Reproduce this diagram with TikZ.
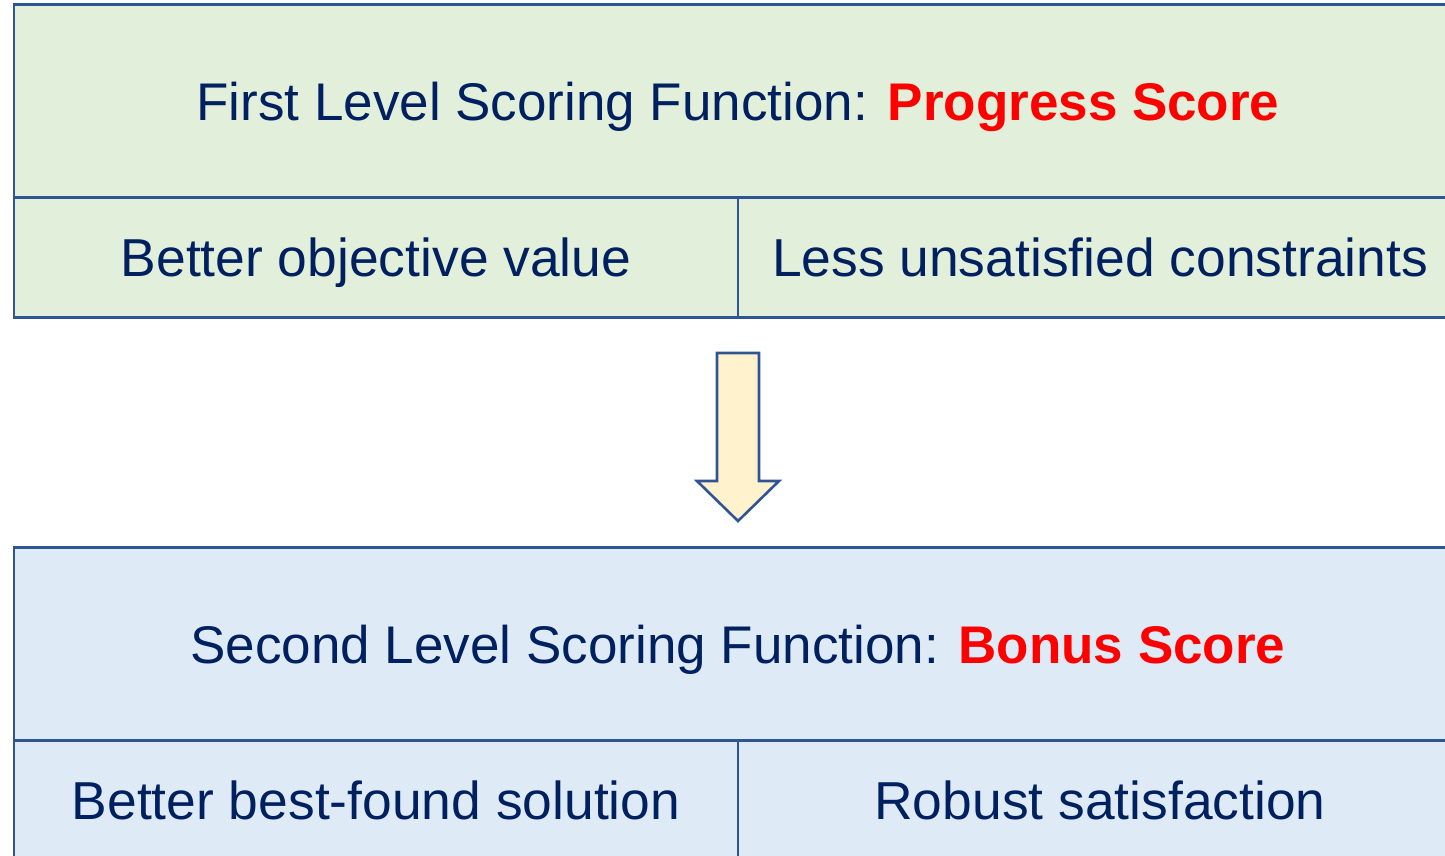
\documentclass[tikz,border=0pt]{standalone}
\usepackage{fontspec}
\setmainfont{Liberation Sans}
\usetikzlibrary{positioning}

\definecolor{navy}{HTML}{002060}
\definecolor{frame}{HTML}{2F5597}
\definecolor{greenbg}{HTML}{E2EFDA}
\definecolor{bluebg}{HTML}{DEEBF7}
\definecolor{arrowbg}{HTML}{FFF2CC}

\begin{document}
\begin{tikzpicture}[x=0.5pt,y=-0.5pt,
		font=\fontsize{26.7}{32}\selectfont,
		box/.style={draw=frame,line width=1.3pt,text=navy,inner sep=0pt,outer sep=0pt,
			text height=19.1pt,text depth=0pt},
		head/.style={box,minimum width=724pt,minimum height=96.5pt,font=\fontsize{26.5}{32}\selectfont},
		cell/.style={box,minimum width=362pt,minimum height=60pt},
		blockarrow/.style={draw=frame,line width=1.3pt,fill=arrowbg,line join=miter},
	]
		\useasboundingbox (0,0) rectangle (1445,856);
		\clip (0,0) rectangle (1445,856);

		% first level
		\node[head,fill=greenbg,anchor=north west] (first) at (14,4.5)
			{First Level Scoring Function: \textcolor{red}{\bfseries Progress Score}};
		\node[cell,fill=greenbg,below right=0pt of first.south west] (obj) {Better objective value};
		\node[cell,fill=greenbg,right=0pt of obj] (cons) {Less unsatisfied constraints};

		% block arrow between the levels
		\coordinate (down) at (738,437);
		\draw[blockarrow] ([shift={(-21,-84)}]down) -- ++(42,0) -- ++(0,128) -- ++(20,0)
			-- ([shift={(0,84)}]down) -- ([shift={(-41,44)}]down) -- ++(20,0) -- cycle;

		% second level
		\node[head,fill=bluebg,anchor=north west] (second) at (14,547.5)
			{Second Level Scoring Function: \textcolor{red}{\bfseries Bonus Score}};
		\node[cell,fill=bluebg,below right=0pt of second.south west] (best) {Better best-found solution};
		\node[cell,fill=bluebg,right=0pt of best] (robust) {Robust satisfaction};
	\end{tikzpicture}
\end{document}
